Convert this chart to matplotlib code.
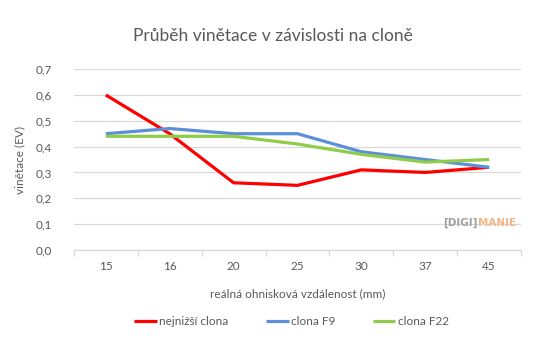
import numpy as np
import matplotlib
matplotlib.use("Agg")
import matplotlib.pyplot as plt

plt.rcParams['font.family'] = ['Lato', 'DejaVu Sans']

# data
kategorie = ["15", "16", "20", "25", "30", "37", "45"]
nejnizsi = [0.60, 0.45, 0.26, 0.25, 0.31, 0.30, 0.32]
f9 = [0.45, 0.47, 0.45, 0.45, 0.38, 0.35, 0.32]
f22 = [0.44, 0.44, 0.44, 0.41, 0.37, 0.34, 0.35]
yticks = [0.0, 0.1, 0.2, 0.3, 0.4, 0.5, 0.6, 0.7]

seda = '#595959'
mrizka = '#d9d9d9'

fig = plt.figure(figsize=(5.35, 3.51), dpi=100)
ax = fig.add_axes([0.138, 0.288, 0.836, 0.515])

x = np.arange(len(kategorie))
ax.plot(x, nejnizsi, color='#FF0000', lw=2.3, label='nejnižší clona', solid_capstyle='butt')
ax.plot(x, f9, color='#5B8FD9', lw=2.3, label='clona F9', solid_capstyle='butt')
ax.plot(x, f22, color='#8FCC4A', lw=2.3, label='clona F22', solid_capstyle='butt')

ax.set_xlim(-0.5, len(kategorie) - 0.5)
ax.set_ylim(0, 0.7)
ax.set_yticks(yticks)
ax.set_yticklabels([f"{v:.1f}".replace('.', ',') for v in yticks])
ax.yaxis.grid(True, color=mrizka, lw=0.9)
ax.set_axisbelow(True)

# osa kategorii: popisky uprostred, carky mezi kategoriemi
ax.set_xticks(x)
ax.set_xticklabels(kategorie)
ax.set_xticks(np.arange(-0.5, len(kategorie)), minor=True)
ax.tick_params(axis='x', which='major', length=0, pad=8, labelsize=8.5, labelcolor=seda)
ax.tick_params(axis='x', which='minor', length=4, color=mrizka, width=0.9)
ax.tick_params(axis='y', length=0, pad=16, labelsize=8.5, labelcolor=seda)

for s in ['top', 'right', 'left']:
    ax.spines[s].set_visible(False)
ax.spines['bottom'].set_color(mrizka)
ax.spines['bottom'].set_linewidth(0.9)

ax.set_xlabel("reálná ohnisková vzdálenost (mm)", fontsize=8.5, color=seda, labelpad=12)
ax.set_ylabel("vinětace (EV)", fontsize=8.5, color=seda, labelpad=7)

fig.text(0.51, 0.897, "Průběh vinětace v závislosti na cloně", ha='center', va='center',
         fontsize=12.5, color=seda)

# logo
fig.text(443 / 535, 0.365, "[DIGI]", fontsize=7.5, color='#a0a0a0', fontweight='bold',
         family='DejaVu Sans', ha='left', va='center')
fig.text(478 / 535, 0.365, "MANIE", fontsize=7.5, color='#f5b584', fontweight='bold',
         family='DejaVu Sans', ha='left', va='center')

fig.legend(loc='center', bbox_to_anchor=(0.545, 0.085), ncol=3, frameon=False,
           fontsize=8.5, labelcolor=seda, handlelength=1.9, handletextpad=0.2,
           columnspacing=3.2)

fig.savefig("out.png", dpi=100)
